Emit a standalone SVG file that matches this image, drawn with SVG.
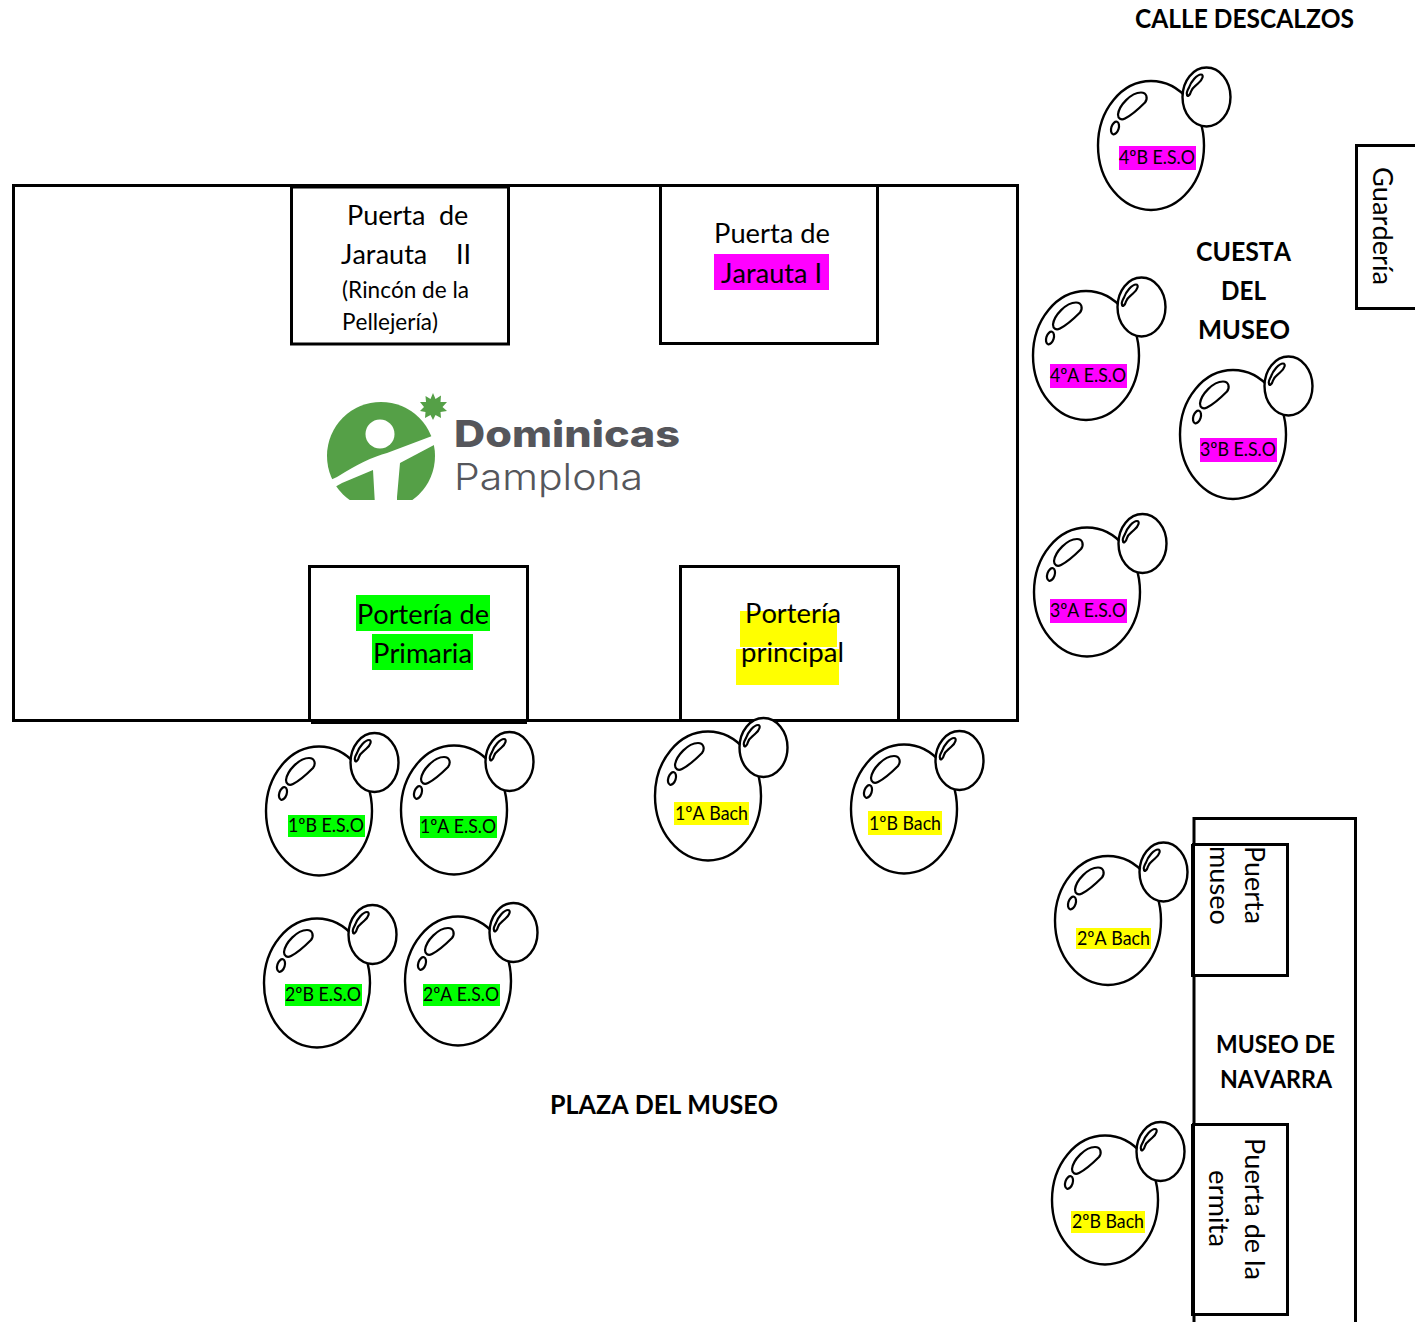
<svg xmlns="http://www.w3.org/2000/svg" width="1415" height="1322" viewBox="0 0 1415 1322">
<style>
text{font-family:"Lato","Open Sans","Liberation Sans",sans-serif;fill:#000;font-kerning:none}
.b{fill:#fff;stroke:#000;stroke-width:3}
.n{fill:none;stroke:#000;stroke-width:3}
.t{font-size:27px}
.s{font-size:24px}
.h{font-size:27px;font-weight:700}
.m{font-size:25px;font-weight:700}
.l{font-size:19px}
.g{fill:#0f0}
.y{fill:#ff0}
.p{fill:#f0f}
.bl{fill:#fff;stroke:#000;stroke-width:2.4}
.hl{fill:none;stroke:#000;stroke-width:2.2}
</style>
<defs>
<g id="bubble">
<ellipse class="bl" cx="0" cy="0" rx="53" ry="64.500"/>
<path class="hl" d="M-33-31C-32-40-20-53-10-53C-4-53-3-47-6-43C-12-37-20-30-26-27C-30-25-33-27-33-31Z"/>
<ellipse class="hl" cx="-36" cy="-17.500" rx="3.700" ry="6.500" transform="rotate(18 -36 -17.500)"/>
<ellipse class="bl" cx="55.500" cy="-48.500" rx="24" ry="29.500"/>
<path class="hl" d="M38-58C40-64 46-71 50-71C53-71 52-66 47-62C44-59 41-58 40-54C39-50 36-48 36-51C35-53 37-56 38-58Z"/>
</g>
<clipPath id="lc"><rect x="320" y="395" width="125" height="105"/></clipPath>
</defs>

<g id="colegio">
<rect class="n" x="13.500" y="185.500" width="1004" height="535"/>
</g>

<g id="puerta-jarauta-2">
<rect class="b" x="291.500" y="187" width="217" height="157"/>
<text class="t" x="347" y="225">Puerta</text>
<text class="t" x="439" y="225">de</text>
<text class="t" x="341" y="264">Jarauta</text>
<text class="t" x="456" y="264">II</text>
<text class="s" x="342" y="298" textLength="127" lengthAdjust="spacingAndGlyphs">(Rincón de la</text>
<text class="s" x="342" y="330" textLength="96" lengthAdjust="spacingAndGlyphs">Pellejería)</text>
</g>

<g id="puerta-jarauta-1">
<rect class="b" x="660.500" y="185.500" width="217" height="158"/>
<rect class="p" x="714" y="254" width="115" height="36"/>
<text class="t" x="714" y="243" textLength="116" lengthAdjust="spacingAndGlyphs">Puerta de</text>
<text class="t" x="721" y="283" textLength="101" lengthAdjust="spacingAndGlyphs">Jarauta I</text>
</g>

<g id="logo">
<g clip-path="url(#lc)">
<circle cx="381" cy="456" r="54" fill="#55a047"/>
<path fill="#fff" d="M326 482L337 477Q367 458 387 453L440 433V444L434 445L400 463L397 497V505H375L373 470L342 483L326 492Z"/>
<ellipse cx="380" cy="434" rx="14.500" ry="14.500" fill="#fff"/>
</g>
<path fill="#55a047" d="M433 393L435.500 399L441 395.500L440.500 402L447 402L442.500 407L447 411L440.500 412L441 418L435.500 415L433 420L430.500 415L425 418L425.500 412L420 411L424 407L420 402L426 402L425.500 396L430.500 399Z"/>
<text x="454" y="447" font-size="37" style="font-family:Inter,'Liberation Sans',sans-serif;font-weight:800;fill:#55565b" textLength="226" lengthAdjust="spacingAndGlyphs">Dominicas</text>
<text x="454" y="490" font-size="37" style="font-family:Inter,'Liberation Sans',sans-serif;font-weight:300;fill:#55565b" textLength="189" lengthAdjust="spacingAndGlyphs">Pamplona</text>
</g>

<g id="porteria-primaria">
<rect class="b" x="309.500" y="566.500" width="218" height="154"/>
<rect x="311" y="719" width="216" height="5"/>
<rect class="g" x="356" y="595" width="134" height="36"/>
<rect class="g" x="372" y="634" width="101" height="36"/>
<text class="t" x="357" y="624" textLength="132" lengthAdjust="spacingAndGlyphs">Portería de</text>
<text class="t" x="373" y="663" textLength="99" lengthAdjust="spacingAndGlyphs">Primaria</text>
</g>

<g id="porteria-principal">
<rect class="b" x="680.500" y="566.500" width="218" height="154"/>
<rect x="681" y="719" width="218" height="3"/>
<rect class="y" x="740" y="611" width="97" height="36"/>
<rect class="y" x="736" y="649" width="103" height="36"/>
<text class="t" x="745" y="623" textLength="96" lengthAdjust="spacingAndGlyphs">Portería</text>
<text class="t" x="741" y="662" textLength="103" lengthAdjust="spacingAndGlyphs">principal</text>
</g>

<g id="guarderia">
<path class="n" d="M1417 145.500H1356.500V308.500H1417"/>
<text class="t" transform="translate(1373 167) rotate(90)" textLength="118" lengthAdjust="spacingAndGlyphs">Guardería</text>
</g>

<g id="museo-navarra">
<path class="n" d="M1194 1324V818.500H1355.500V1324"/>
<text class="m" x="1216" y="1053" textLength="119" lengthAdjust="spacingAndGlyphs">MUSEO DE</text>
<text class="m" x="1220" y="1088" textLength="112" lengthAdjust="spacingAndGlyphs">NAVARRA</text>
</g>

<g id="puerta-museo">
<rect class="b" x="1193.500" y="844.500" width="94" height="131"/>
<rect x="1191" y="844" width="4" height="133"/>
<text class="t" transform="translate(1245 846) rotate(90)" textLength="78" lengthAdjust="spacingAndGlyphs">Puerta</text>
<text class="t" transform="translate(1210 846) rotate(90)" textLength="79" lengthAdjust="spacingAndGlyphs">museo</text>
</g>

<g id="puerta-ermita">
<rect class="b" x="1193.500" y="1124.500" width="94" height="190"/>
<rect x="1191" y="1124" width="4" height="192"/>
<text class="t" transform="translate(1245 1138) rotate(90)" textLength="142" lengthAdjust="spacingAndGlyphs">Puerta de la</text>
<text class="t" transform="translate(1209 1170) rotate(90)" textLength="77" lengthAdjust="spacingAndGlyphs">ermita</text>
</g>

<g id="etiquetas">
<text class="h" x="1135" y="28" textLength="219" lengthAdjust="spacingAndGlyphs">CALLE DESCALZOS</text>
<text class="h" x="1196" y="261" textLength="95" lengthAdjust="spacingAndGlyphs">CUESTA</text>
<text class="h" x="1221" y="300" textLength="45" lengthAdjust="spacingAndGlyphs">DEL</text>
<text class="h" x="1198" y="339" textLength="92" lengthAdjust="spacingAndGlyphs">MUSEO</text>
<text class="h" x="550" y="1114" textLength="228" lengthAdjust="spacingAndGlyphs">PLAZA DEL MUSEO</text>
</g>

<g id="g-4b"><use href="#bubble" x="1151" y="145.500"/><rect class="p" x="1119" y="146" width="77" height="24"/><text class="l" x="1119" y="164" textLength="76" lengthAdjust="spacingAndGlyphs">4ºB E.S.O</text></g>
<g id="g-4a"><use href="#bubble" x="1086" y="355.500"/><rect class="p" x="1050" y="364" width="77" height="24"/><text class="l" x="1050" y="382" textLength="76" lengthAdjust="spacingAndGlyphs">4ºA E.S.O</text></g>
<g id="g-3b"><use href="#bubble" x="1233" y="434.500"/><rect class="p" x="1200" y="438" width="77" height="24"/><text class="l" x="1200" y="456" textLength="76" lengthAdjust="spacingAndGlyphs">3ºB E.S.O</text></g>
<g id="g-3a"><use href="#bubble" x="1087" y="592"/><rect class="p" x="1050" y="599" width="77" height="24"/><text class="l" x="1050" y="617" textLength="76" lengthAdjust="spacingAndGlyphs">3ºA E.S.O</text></g>
<g id="g-1b"><use href="#bubble" x="319" y="811"/><rect class="g" x="288" y="815" width="77" height="22"/><text class="l" x="288" y="832" textLength="76" lengthAdjust="spacingAndGlyphs">1ºB E.S.O</text></g>
<g id="g-1a"><use href="#bubble" x="454" y="810"/><rect class="g" x="420" y="816" width="77" height="22"/><text class="l" x="420" y="833" textLength="76" lengthAdjust="spacingAndGlyphs">1ºA E.S.O</text></g>
<g id="g-2b"><use href="#bubble" x="317" y="983"/><rect class="g" x="285" y="984" width="77" height="22"/><text class="l" x="285" y="1001" textLength="76" lengthAdjust="spacingAndGlyphs">2ºB E.S.O</text></g>
<g id="g-2a"><use href="#bubble" x="458" y="981"/><rect class="g" x="423" y="984" width="77" height="22"/><text class="l" x="423" y="1001" textLength="76" lengthAdjust="spacingAndGlyphs">2ºA E.S.O</text></g>
<g id="g-1ab"><use href="#bubble" x="708" y="796"/><rect class="y" x="674" y="802" width="75" height="23"/><text class="l" x="675" y="820" textLength="73" lengthAdjust="spacingAndGlyphs">1ºA Bach</text></g>
<g id="g-1bb"><use href="#bubble" x="904" y="809"/><rect class="y" x="868" y="811" width="74" height="24"/><text class="l" x="869" y="830" textLength="72" lengthAdjust="spacingAndGlyphs">1ºB Bach</text></g>
<g id="g-2ab"><use href="#bubble" x="1108" y="920.500"/><rect class="y" x="1076" y="928" width="75" height="21"/><text class="l" x="1077" y="945" textLength="73" lengthAdjust="spacingAndGlyphs">2ºA Bach</text></g>
<g id="g-2bb"><use href="#bubble" x="1105" y="1200"/><rect class="y" x="1071" y="1211" width="74" height="22"/><text class="l" x="1072" y="1228" textLength="72" lengthAdjust="spacingAndGlyphs">2ºB Bach</text></g>
</svg>
